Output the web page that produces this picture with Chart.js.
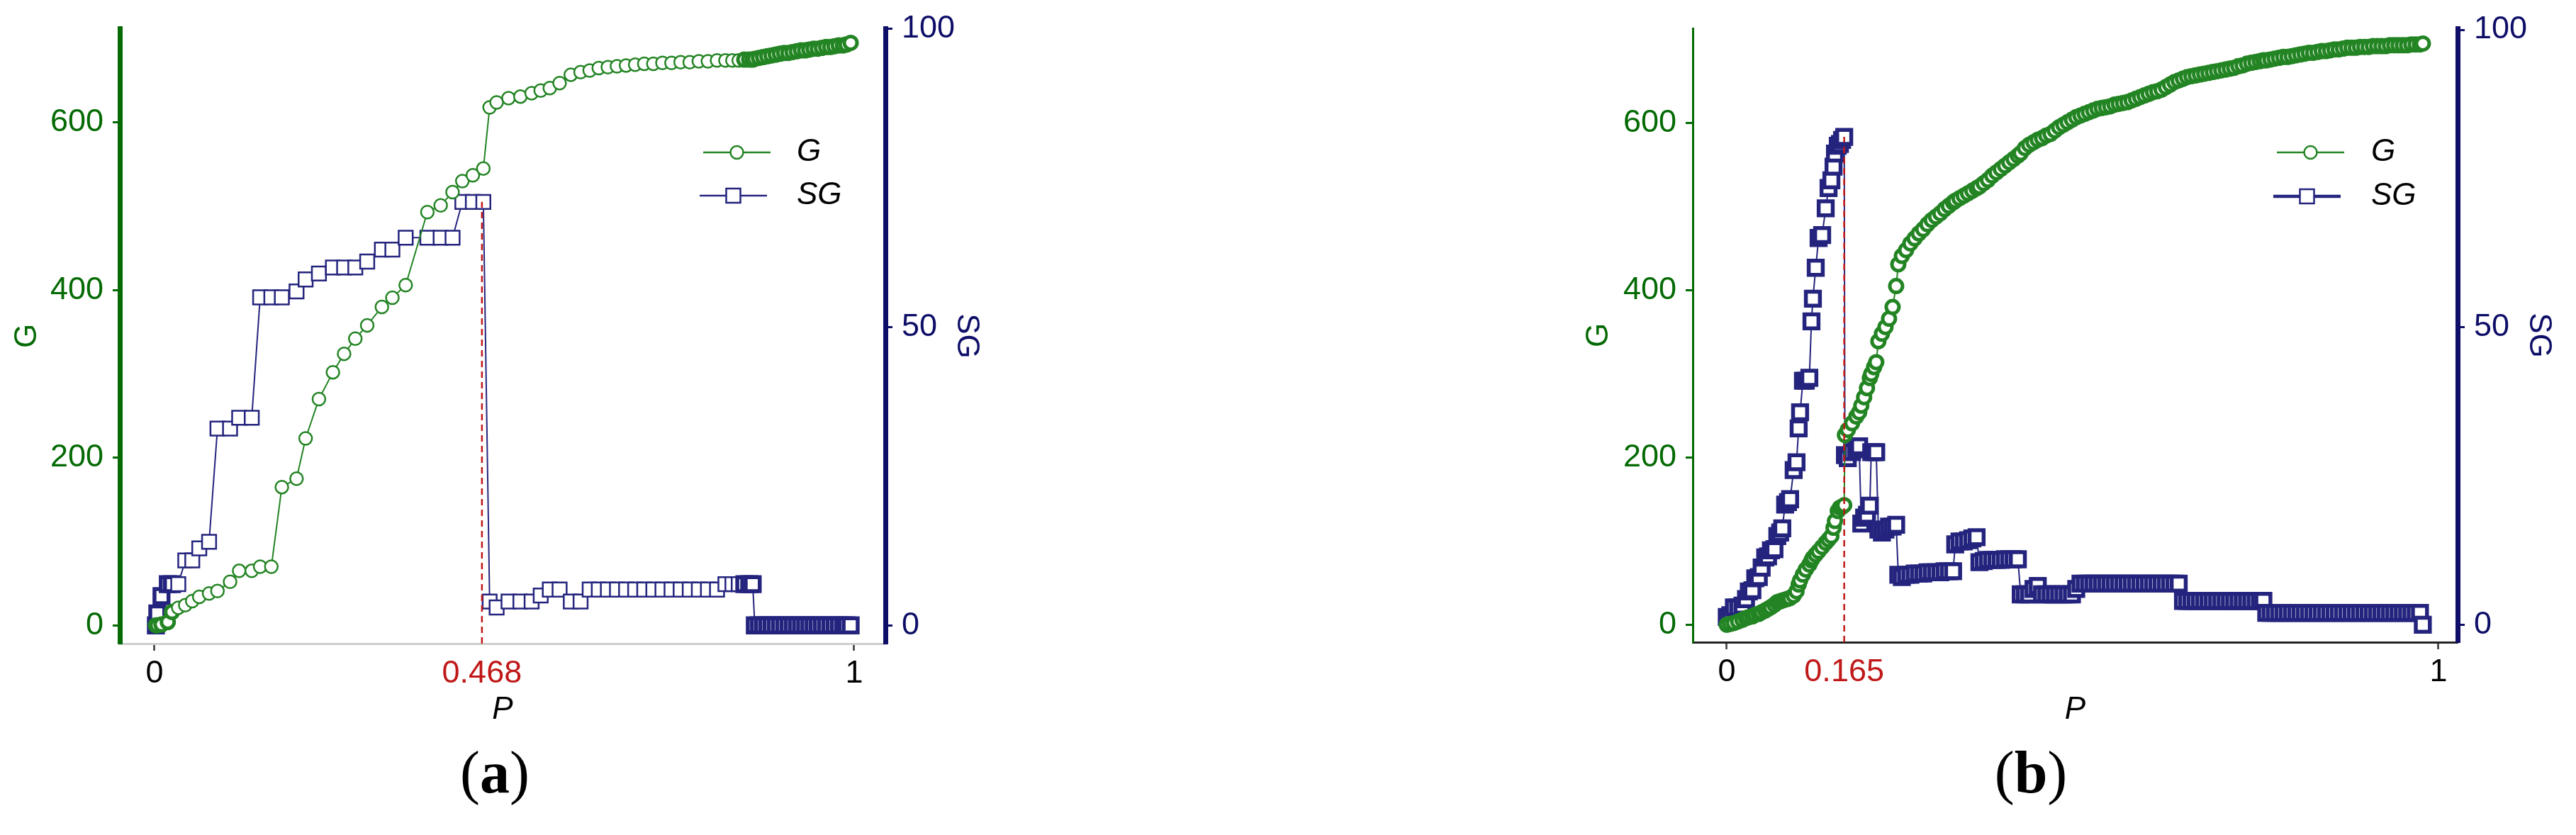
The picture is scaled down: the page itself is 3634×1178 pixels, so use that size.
<!DOCTYPE html>
<html>
<head>
<meta charset="utf-8">
<title>G and SG versus P</title>
<script src="https://cdn.jsdelivr.net/npm/chart.js@4.4.1/dist/chart.umd.min.js"></script>
<style>
    html, body { margin: 0; padding: 0; background: #fff; }
    body { width: 3634px; height: 1178px; position: relative; overflow: hidden; }
    canvas { position: absolute; top: 0; }
    .cap { position: absolute; width: 200px; text-align: center; font-family: 'Liberation Serif', 'Times New Roman', serif; font-size: 84px; line-height: 1; color: #000; }
</style>
</head>
<body>
<canvas id="chartA" width="1500" height="1050" style="left:0px"></canvas>
<canvas id="chartB" width="1434" height="1050" style="left:2200px"></canvas>
<div class="cap" style="left:598px; top:1048px">(<b>a</b>)</div>
<div class="cap" style="left:2765px; top:1048px">(<b>b</b>)</div>
<script>
// ---- panel (a) ----
const pA = [
    0.002, 0.004, 0.010, 0.019, 0.025, 0.034, 0.044, 0.054, 0.064, 0.078,
    0.090, 0.108, 0.121, 0.139, 0.151, 0.167, 0.182, 0.203, 0.216, 0.235,
    0.255, 0.271, 0.287, 0.304, 0.325, 0.340, 0.359, 0.390, 0.409, 0.426,
    0.440, 0.455, 0.470, 0.479, 0.489, 0.506, 0.523, 0.539, 0.552, 0.565,
    0.579, 0.595, 0.609, 0.622, 0.635, 0.648, 0.661, 0.674, 0.687, 0.700,
    0.713, 0.726, 0.739, 0.752, 0.765, 0.778, 0.791, 0.804, 0.816, 0.826,
    0.835, 0.843, 0.850, 0.855, 0.858, 0.864, 0.870, 0.876, 0.882, 0.888,
    0.894, 0.900, 0.906, 0.912, 0.918, 0.924, 0.930, 0.936, 0.942, 0.948,
    0.954, 0.960, 0.966, 0.972, 0.978, 0.984, 0.989, 0.995
];
const gA = [
    0, 0, 1, 4, 16, 21, 24, 29, 34, 38,
    41, 52, 65, 65, 70, 70, 165, 175, 223, 270,
    302, 324, 342, 358, 380, 391, 406, 493, 501, 517,
    530, 537, 545, 618, 624, 629, 631, 635, 638, 641,
    647, 657, 660, 662, 665, 666, 667, 668, 669, 670,
    670, 671, 671, 672, 672, 673, 673, 674, 674, 674,
    674, 675, 675, 675, 676, 677, 678, 679, 680, 681,
    682, 683, 683, 684, 685, 686, 686, 687, 688, 688,
    689, 690, 690, 691, 692, 692, 693, 695
];
const sgA = [
    0, 2, 4.9, 6.9, 6.9, 6.9, 10.9, 10.9, 12.9, 14,
    33, 33, 34.8, 34.8, 55, 55, 55, 56, 58, 59,
    60, 60, 60, 61, 63, 63, 65, 65, 65, 65,
    71, 71, 71, 4, 3, 4, 4, 4, 5, 6,
    6, 4, 4, 6, 6, 6, 6, 6, 6, 6,
    6, 6, 6, 6, 6, 6, 6, 6, 6.9, 6.9,
    6.9, 6.9, 6.9, 6.9, 0, 0, 0, 0, 0, 0,
    0, 0, 0, 0, 0, 0, 0, 0, 0, 0,
    0, 0, 0, 0, 0, 0, 0, 0
];
const cutA = 0.468;
const cutSgA = 71;

// ---- panel (b) ----
const pB = [
    0.000, 0.005, 0.010, 0.016, 0.022, 0.027, 0.031, 0.036, 0.040, 0.045,
    0.049, 0.054, 0.058, 0.062, 0.067, 0.071, 0.075, 0.078, 0.082, 0.086,
    0.089, 0.094, 0.098, 0.101, 0.103, 0.107, 0.111, 0.116, 0.119, 0.121,
    0.125, 0.129, 0.134, 0.139, 0.143, 0.147, 0.150, 0.152, 0.156, 0.159,
    0.162, 0.165,
    0.166, 0.170, 0.176, 0.182, 0.186, 0.189, 0.193, 0.197, 0.201, 0.203,
    0.207, 0.210, 0.213, 0.218, 0.223, 0.228, 0.233, 0.238, 0.241, 0.246,
    0.252, 0.258, 0.264, 0.270, 0.276, 0.282, 0.288, 0.294, 0.300, 0.306,
    0.312, 0.318, 0.321, 0.327, 0.333, 0.339, 0.345, 0.351, 0.355, 0.361,
    0.367, 0.373, 0.379, 0.385, 0.391, 0.397, 0.403, 0.409, 0.413, 0.419,
    0.425, 0.431, 0.437, 0.443, 0.449, 0.455, 0.461, 0.467, 0.473, 0.479,
    0.485, 0.491, 0.497, 0.503, 0.509, 0.515, 0.521, 0.527, 0.533, 0.539,
    0.545, 0.551, 0.557, 0.563, 0.569, 0.575, 0.581, 0.587, 0.593, 0.599,
    0.605, 0.611, 0.617, 0.623, 0.629, 0.635, 0.641, 0.647, 0.653, 0.659,
    0.665, 0.671, 0.677, 0.683, 0.689, 0.695, 0.701, 0.707, 0.713, 0.719,
    0.725, 0.731, 0.737, 0.743, 0.749, 0.754, 0.758, 0.764, 0.770, 0.776,
    0.782, 0.788, 0.794, 0.800, 0.806, 0.812, 0.818, 0.824, 0.830, 0.836,
    0.842, 0.848, 0.854, 0.860, 0.866, 0.872, 0.878, 0.884, 0.890, 0.896,
    0.902, 0.908, 0.914, 0.920, 0.926, 0.932, 0.938, 0.944, 0.950, 0.956,
    0.962, 0.968, 0.974, 0.978
];
const gB = [
    0, 1, 2, 4, 6, 8, 9, 10, 12, 13,
    15, 17, 19, 21, 24, 27, 28, 29, 30, 31,
    32, 35, 40, 48, 53, 60, 66, 72, 77, 80,
    84, 88, 93, 98, 102, 106, 116, 124, 136, 140,
    141, 143,
    227, 233, 241, 249, 254, 262, 272, 283, 295, 300,
    308, 314, 339, 348, 356, 366, 380, 405, 431, 441,
    448, 456, 462, 468, 473, 479, 484, 488, 492, 497,
    501, 505, 507, 510, 513, 516, 519, 522, 524, 528,
    532, 537, 541, 545, 549, 553, 557, 561, 564, 570,
    574, 577, 580, 582, 585, 587, 591, 595, 598, 601,
    604, 607, 609, 611, 613, 615, 617, 618, 619, 620,
    622, 623, 624, 625, 627, 629, 631, 633, 635, 637,
    638, 640, 643, 646, 649, 651, 653, 655, 656, 657,
    658, 659, 660, 661, 662, 663, 664, 665, 666, 668,
    669, 671, 672, 673, 674, 675, 675, 676, 677, 678,
    679, 679, 680, 681, 682, 683, 684, 684, 685, 686,
    686, 687, 688, 688, 689, 690, 690, 690, 691, 691,
    691, 692, 692, 692, 692, 693, 693, 693, 693, 693,
    694, 694, 694, 695
];
const sgB = [
    1.3, 1.6, 2.9, 2.9, 3.2, 4.3, 5.6, 5.8, 7.8, 8.0,
    9.6, 11.3, 11.5, 12.5, 12.7, 14.9, 15.5, 16.2, 20.2, 20.6,
    21.1, 26, 27.3, 33, 35.7, 41, 41, 41.5, 51, 54.8,
    60, 65, 65.5, 70, 73.4, 74.7, 77, 79.2, 80.5, 80.8,
    81.5, 82,
    28.5, 28, 29, 29.5, 30, 17, 18, 18.5, 20, 29,
    29, 29, 16, 15.5, 16, 16.5, 16.5, 16.8, 8.4, 8,
    8.4, 8.4, 8.6, 8.6, 8.6, 8.8, 8.8, 8.8, 8.8, 9,
    9, 9, 13.5, 14, 14, 14.2, 14.5, 14.7, 10.5, 10.7,
    10.9, 10.9, 10.9, 10.9, 11, 11, 11, 11, 5.1, 5.1,
    5.1, 6, 6.5, 5.1, 5.1, 5.1, 5.1, 5.1, 5.1, 5.1,
    5.1, 6, 6.9, 6.9, 6.9, 6.9, 6.9, 6.9, 6.9, 6.9,
    6.9, 6.9, 6.9, 6.9, 6.9, 6.9, 6.9, 6.9, 6.9, 6.9,
    6.9, 6.9, 6.9, 6.9, 6.9, 6.9, 4, 4, 4, 4,
    4, 4, 4, 4, 4, 4, 4, 4, 4, 4,
    4, 4, 4, 4, 4, 4, 2, 2, 2, 2,
    2, 2, 2, 2, 2, 2, 2, 2, 2, 2,
    2, 2, 2, 2, 2, 2, 2, 2, 2, 2,
    2, 2, 2, 2, 2, 2, 2, 2, 2, 2,
    2, 2, 2, 0
];
const cutB = 0.165;
const cutSgB = 82;

const gTicks = [0, 200, 400, 600];
const sgTicks = [0, 50, 100];

const FONT = "'Liberation Sans', Arial, sans-serif";
const G_LINE = '#238423';
const G_AXIS = '#046a04';
const SG_LINE = '#24247e';
const SG_AXIS = '#0e0e68';
const RED = '#c01818';

function xy(p, v) {
    return p.map(function (x, i) { return { x: x, y: v[i] }; });
}

// markers packed closely overlap into a solid band: give those a heavier outline
function crowded(p, i) {
    const prev = i > 0 ? p[i] - p[i - 1] : 1;
    const next = i < p.length - 1 ? p[i + 1] - p[i] : 1;
    return Math.min(prev, next) < 0.0075;
}

// legend drawn as line + marker + label, like the figure
const lineLegend = {
    id: 'lineLegend',
    afterDraw(chart, args, o) {
        const ctx = chart.ctx;
        const sets = chart.data.datasets.filter(d => d.label === 'G' || d.label === 'SG');
        ctx.save();
        sets.forEach(function (d, i) {
            const y = o.y + i * o.gap;
            const x1 = o.x - i * 5;
            ctx.strokeStyle = d.borderColor;
            ctx.lineWidth = o.widths[i];
            ctx.beginPath();
            ctx.moveTo(x1, y);
            ctx.lineTo(x1 + o.len, y);
            ctx.stroke();
            const cx = x1 + o.len / 2;
            ctx.lineWidth = 2.5;
            ctx.fillStyle = '#fff';
            ctx.beginPath();
            if (d.pointStyle === 'circle') ctx.arc(cx, y, 9, 0, Math.PI * 2);
            else ctx.rect(cx - 10, y - 10, 20, 20);
            ctx.fill();
            ctx.stroke();
            ctx.fillStyle = '#000';
            ctx.font = 'italic 44px ' + FONT;
            ctx.textAlign = 'left';
            ctx.textBaseline = 'middle';
            ctx.fillText(d.label, o.textX, y);
        });
        ctx.restore();
    }
};

function makePanel(id, p, g, sg, cut, cutSg, box) {
    const canvas = document.getElementById(id);
    const W = canvas.width, H = canvas.height;

    return new Chart(canvas.getContext('2d'), {
        type: 'line',
        data: {
            datasets: [{
                label: 'cut',
                data: [{ x: cut, y: box.sgMin }, { x: cut, y: cutSg }],
                yAxisID: 'yR',
                borderColor: RED,
                borderWidth: 2.5,
                borderDash: [9, 6],
                pointRadius: 0,
                order: 0
            }, {
                label: 'G',
                data: xy(p, g),
                yAxisID: 'yL',
                borderColor: G_LINE,
                borderWidth: 2,
                pointStyle: 'circle',
                pointRadius: 9,
                pointBorderWidth: c => crowded(p, c.dataIndex) ? 5 : 2.5,
                pointBorderColor: G_LINE,
                pointBackgroundColor: '#fff',
                tension: 0,
                order: 1
            }, {
                label: 'SG',
                data: xy(p, sg),
                yAxisID: 'yR',
                borderColor: SG_LINE,
                borderWidth: 2,
                pointStyle: 'rect',
                pointRadius: 14,
                pointBorderWidth: c => crowded(p, c.dataIndex) ? 5.5 : 2.5,
                pointBorderColor: SG_LINE,
                pointBackgroundColor: '#fff',
                tension: 0,
                order: 2
            }]
        },
        options: {
            responsive: false,
            animation: false,
            devicePixelRatio: 1,
            events: [],
            clip: false,
            layout: { padding: { top: box.top, left: 0, right: 0, bottom: 0 } },
            plugins: {
                legend: { display: false },
                tooltip: { enabled: false },
                lineLegend: box.legend
            },
            scales: {
                x: {
                    type: 'linear',
                    min: box.xMin,
                    max: box.xMax,
                    afterBuildTicks: s => { s.ticks = [0, cut, 1].map(v => ({ value: v })); },
                    afterFit: s => { s.height = H - box.bottom; },
                    grid: {
                        drawOnChartArea: false,
                        tickLength: 10,
                        tickWidth: 2.5,
                        tickColor: c => (c.tick && c.tick.value === cut) ? 'rgba(0,0,0,0)' : '#333'
                    },
                    border: { display: true, color: box.xAxisColor, width: 3 },
                    ticks: {
                        autoSkip: false,
                        maxRotation: 0,
                        padding: 6,
                        color: c => (c.tick && c.tick.value === cut) ? RED : '#000',
                        font: { family: FONT, size: 45 },
                        callback: v => String(v)
                    },
                    title: {
                        display: true,
                        text: 'P',
                        color: '#000',
                        font: { family: FONT, size: 44, style: 'italic', lineHeight: 1 },
                        padding: { top: 0, bottom: 26 }
                    }
                },
                yL: {
                    type: 'linear',
                    position: 'left',
                    min: box.gMin,
                    max: box.gMax,
                    afterBuildTicks: s => { s.ticks = gTicks.map(v => ({ value: v })); },
                    afterFit: s => { s.width = box.left; },
                    grid: { drawOnChartArea: false, tickLength: 10, tickWidth: 3, color: G_AXIS },
                    border: { display: true, color: G_AXIS, width: box.leftBorder },
                    ticks: { padding: 13, color: G_AXIS, font: { family: FONT, size: 45 } },
                    title: {
                        display: true,
                        text: 'G',
                        color: G_AXIS,
                        font: { family: FONT, size: 44, lineHeight: 1 },
                        padding: { top: box.gTitlePad, bottom: 0 }
                    }
                },
                yR: {
                    type: 'linear',
                    position: 'right',
                    min: box.sgMin,
                    max: box.sgMax,
                    afterBuildTicks: s => { s.ticks = sgTicks.map(v => ({ value: v })); },
                    afterFit: s => { s.width = W - box.right; },
                    grid: { drawOnChartArea: false, tickLength: 10, tickWidth: 3, color: SG_AXIS },
                    border: { display: true, color: SG_AXIS, width: 7 },
                    ticks: { padding: 13, color: SG_AXIS, font: { family: FONT, size: 45 } },
                    title: {
                        display: true,
                        text: 'SG',
                        color: SG_AXIS,
                        font: { family: FONT, size: 44, lineHeight: 1 },
                        padding: { top: box.sgTitlePad, bottom: 0 }
                    }
                }
            }
        },
        plugins: [lineLegend]
    });
}

makePanel('chartA', pA, gA, sgA, cutA, cutSgA, {
    left: 169, right: 1249, top: 32, bottom: 908,
    xMin: -0.0496, xMax: 1.0446,
    gMin: -21.8, gMax: 712.3,
    sgMin: -3.06, sgMax: 100.1,
    leftBorder: 7,
    xAxisColor: '#cdcdcd',
    gTitlePad: 17,
    sgTitlePad: 115,
    legend: { x: 992, y: 215, gap: 61, len: 95, textX: 1124, widths: [2.5, 2.5] }
});

makePanel('chartB', pB, gB, sgB, cutB, cutSgB, {
    left: 188, right: 1267, top: 30, bottom: 906,
    xMin: -0.0478, xMax: 1.0269,
    gMin: -20.9, gMax: 713.2,
    sgMin: -2.94, sgMax: 100.24,
    leftBorder: 3,
    xAxisColor: '#222222',
    gTitlePad: 34,
    sgTitlePad: 31,
    legend: { x: 1012, y: 215, gap: 62, len: 95, textX: 1145, widths: [2.5, 4.5] }
});
</script>
</body>
</html>
